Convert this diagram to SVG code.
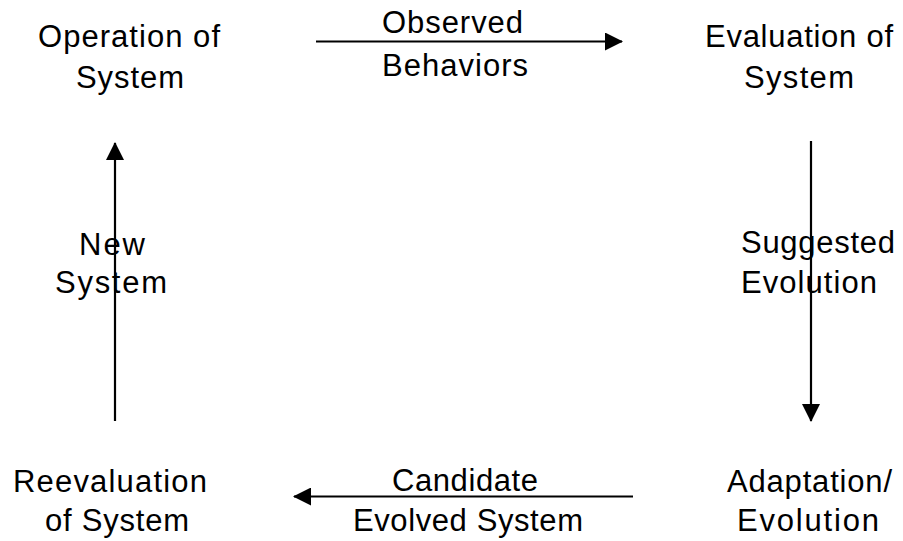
<svg xmlns="http://www.w3.org/2000/svg" width="903" height="541" viewBox="0 0 903 541">
<style>
text{font-family:"Liberation Sans",Arial,sans-serif;font-size:31px;fill:#000}
.c{stroke:#000;stroke-width:2.2;fill:none}
</style>
<defs>
<marker id="ah" markerWidth="18" markerHeight="18" viewBox="0 0 18 18" refX="17" refY="9" orient="auto" markerUnits="userSpaceOnUse">
<path d="M0,0 L18,9 L0,18 Z" fill="#000"/>
</marker>
</defs>
<rect width="903" height="541" fill="#fff"/>
<g id="operation">
<text x="38" y="47" textLength="182" lengthAdjust="spacing">Operation of</text>
<text x="76" y="88" textLength="108" lengthAdjust="spacing">System</text>
</g>
<g id="evaluation">
<text x="705" y="47" textLength="188" lengthAdjust="spacing">Evaluation of</text>
<text x="744" y="88" textLength="110" lengthAdjust="spacing">System</text>
</g>
<g id="adaptation">
<text x="727" y="492" textLength="165" lengthAdjust="spacing">Adaptation/</text>
<text x="737" y="531" textLength="142" lengthAdjust="spacing">Evolution</text>
</g>
<g id="reevaluation">
<text x="13" y="492" textLength="194" lengthAdjust="spacing">Reevaluation</text>
<text x="45" y="531" textLength="144" lengthAdjust="spacing">of System</text>
</g>
<g id="connectors">
<line class="c" x1="316" y1="41.5" x2="622" y2="41.5" marker-end="url(#ah)"/>
<line class="c" x1="811" y1="141" x2="811" y2="421" marker-end="url(#ah)"/>
<line class="c" x1="633" y1="496.5" x2="294" y2="496.5" marker-end="url(#ah)"/>
<line class="c" x1="115" y1="421" x2="115" y2="143" marker-end="url(#ah)"/>
<text x="382" y="33" textLength="141" lengthAdjust="spacing">Observed</text>
<text x="382" y="76" textLength="146" lengthAdjust="spacing">Behaviors</text>
<text x="741" y="253" textLength="154" lengthAdjust="spacing">Suggested</text>
<text x="741" y="293" textLength="136" lengthAdjust="spacing">Evolution</text>
<text x="392" y="491" textLength="146" lengthAdjust="spacing">Candidate</text>
<text x="353" y="531" textLength="230" lengthAdjust="spacing">Evolved System</text>
<text x="79" y="255" textLength="66" lengthAdjust="spacing">New</text>
<text x="55" y="293" textLength="112" lengthAdjust="spacing">System</text>
</g>
</svg>
